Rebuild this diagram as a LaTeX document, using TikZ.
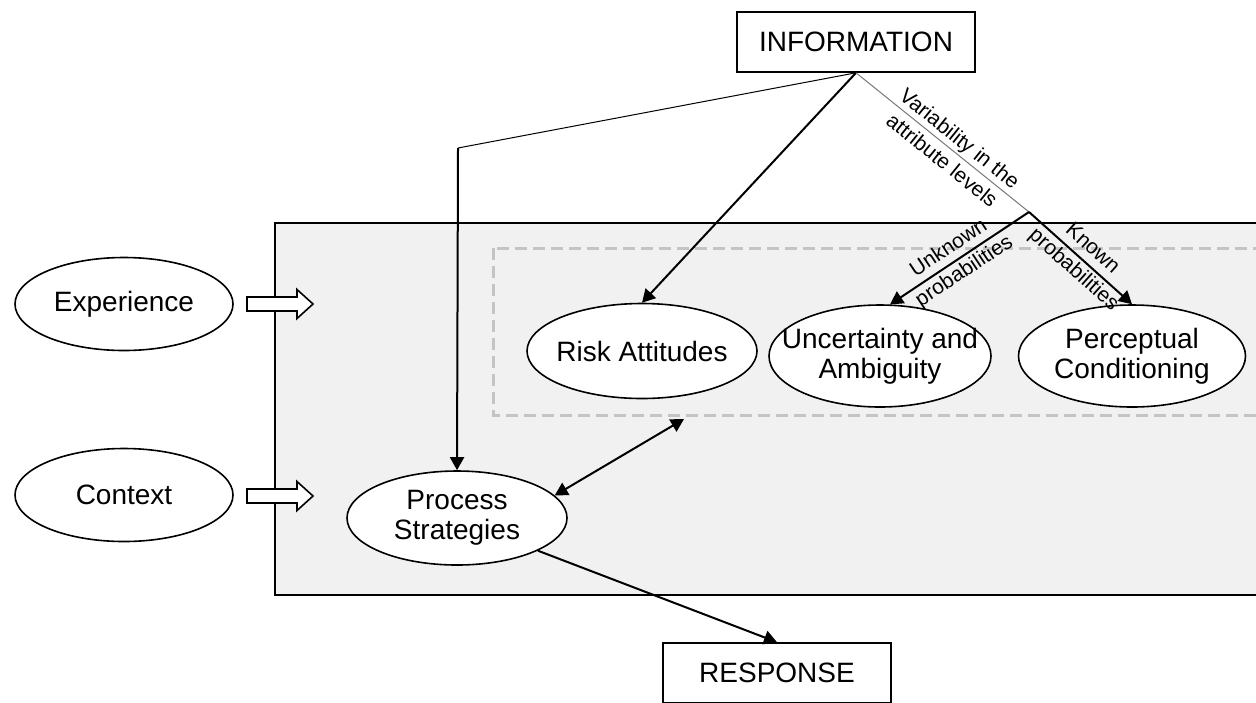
\documentclass[tikz,border=0pt]{standalone}
\usepackage{fontspec}
\setmainfont{Liberation Sans}
\usetikzlibrary{arrows.meta,shapes.geometric}
\definecolor{boxgray}{RGB}{241,241,241}
\definecolor{dashgray}{RGB}{196,196,196}
\definecolor{linegray}{RGB}{120,120,120}
\begin{document}
\begin{tikzpicture}[x=0.5pt,y=-0.5pt,
	txt/.style={align=center,font=\fontsize{14}{15}\selectfont},
	ell/.style={ellipse,draw,fill=white,line width=0.8pt,inner sep=0pt},
	box/.style={draw,fill=white,line width=0.8pt,txt},
	lbl/.style={sloped,align=center,inner sep=1pt,font=\fontsize{10.5}{14}\selectfont},
	arr/.style={line width=1pt,-{Triangle[length=6.5pt,width=7pt]}}]
\useasboundingbox (0,0) rectangle (1256,702);
%grey area, dashed group
\draw [fill=boxgray,line width=1pt] (275,223) rectangle (1270,595);
\draw [dashgray,line width=1.5pt,dash pattern=on 6pt off 3pt] (493,248) rectangle (1270,415);

\node [box,minimum width=119pt,minimum height=30pt] (info) at (856,42) {INFORMATION};
\node [box,minimum width=114pt,minimum height=30pt] (resp) at (777,673) {RESPONSE};

\node [ell,minimum width=109pt,minimum height=46.5pt,label={[txt]center:Experience}] (exp) at (124,304) {};
\node [ell,minimum width=109pt,minimum height=46.5pt,label={[txt]center:Context}] (ctx) at (124,495) {};
\node [ell,minimum width=110pt,minimum height=47pt,label={[txt]center:{Process\\Strategies}}] (proc) at (457,518) {};
\node [ell,minimum width=115pt,minimum height=47.5pt,label={[txt]center:Risk Attitudes}] (risk) at (642,351) {};
\node [ell,minimum width=111pt,minimum height=51pt,label={[txt]center:{Uncertainty and\\Ambiguity}}] (unc) at (880,356) {};
\node [ell,minimum width=113.5pt,minimum height=51pt,label={[txt]center:{Perceptual\\Conditioning}}] (perc) at (1132,356) {};

\coordinate (bend) at (458,148);
\coordinate (split) at (1029,212);
\coordinate (dashEnd) at (684,419);

%hollow arrows into the grey area
\foreach \yy in {304,496}
	\draw [line width=0.8pt,fill=white] (247,\yy-7) -- (297,\yy-7) -- (297,\yy-14.5) -- (313,\yy) -- (297,\yy+14.5) -- (297,\yy+7) -- (247,\yy+7) -- cycle;

\draw [line width=0.5pt] (info.south) -- (bend);
\draw [arr] (bend) -- (proc.north);
\draw [arr] (info.south) -- (risk.north);
\draw [linegray,line width=0.5pt] (info.south) -- node [lbl,text=black,pos=0.55] {Variability in the\\attribute levels} (split);
\draw [arr] (split) -- node [lbl,pos=0.52] {Unknown\\probabilities} (unc.79);
\draw [arr] (split) -- node [lbl,pos=0.52] {Known\\probabilities} (perc.north);
\draw [line width=1pt,{Triangle[length=6.5pt,width=7pt]}-{Triangle[length=6.5pt,width=7pt]}] (proc.13) -- (dashEnd);
\draw [arr] (proc.-22) -- (resp.north);
\end{tikzpicture}
\end{document}
